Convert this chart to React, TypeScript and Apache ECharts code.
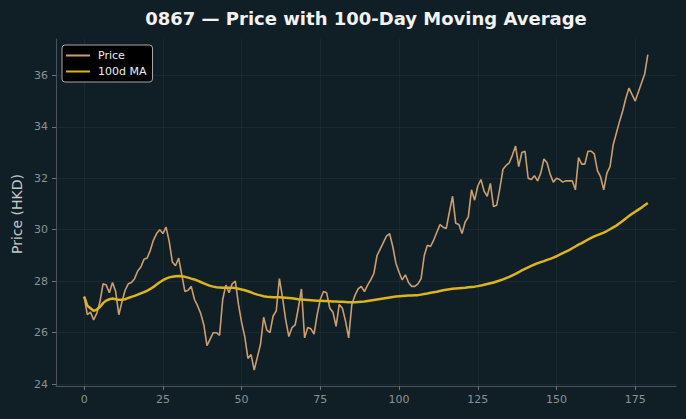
import React, { useEffect, useRef } from "react";
import * as echarts from "echarts";

const priceValues: number[] = [
  27.4, 26.7, 26.8, 26.5, 26.75, 27.2, 27.9, 27.85, 27.55, 27.95,
  27.6, 26.7, 27.2, 27.65, 27.9, 27.95, 28.1, 28.4, 28.55, 28.85,
  28.9, 29.2, 29.6, 29.85, 30.0, 29.85, 30.1, 29.55, 28.75, 28.6,
  28.9, 28.25, 27.6, 27.65, 27.8, 27.3, 27.05, 26.75, 26.3, 25.5,
  25.75, 26.0, 26.0, 25.9, 27.3, 27.85, 27.55, 27.9, 28.0, 27.1,
  26.4, 25.85, 25.0, 25.15, 24.55, 25.05, 25.55, 26.6, 26.1, 26.0,
  26.65, 26.85, 28.1, 27.35, 26.5, 25.85, 26.2, 26.3, 26.95, 27.7,
  25.8, 26.2, 26.15, 25.95, 26.7, 27.3, 27.6, 27.55, 26.95, 26.8,
  26.25, 27.1, 26.95, 26.45, 25.8, 27.1, 27.45, 27.7, 27.8, 27.6,
  27.85, 28.05, 28.3, 29.0, 29.25, 29.5, 29.75, 29.85, 29.35, 28.7,
  28.35, 28.05, 28.25, 27.95, 27.8, 27.8, 27.9, 28.1, 29.0, 29.4,
  29.35, 29.6, 29.9, 30.2, 30.1, 30.05, 30.7, 31.3, 30.25, 30.2,
  29.85, 30.3, 30.5, 31.55, 31.15, 31.7, 31.95, 31.5, 31.3, 31.8,
  30.9, 30.95, 31.6, 32.35, 32.5, 32.6, 32.9, 33.25, 32.45, 33.0,
  33.05, 32.0, 31.95, 32.1, 31.9, 32.2, 32.75, 32.6, 32.15, 31.85,
  32.0, 31.95, 31.85, 31.9, 31.9, 31.9, 31.55, 32.8, 32.55, 32.55,
  33.05, 33.05, 32.95, 32.3, 32.05, 31.55, 32.2, 32.45, 33.3, 33.75,
  34.2, 34.6, 35.1, 35.5, 35.25, 35.0, 35.35, 35.7, 36.05, 36.8,
];

const maValues: number[] = [
  27.4, 27.05, 26.95, 26.85, 26.9, 27.0, 27.15, 27.25, 27.3, 27.33,
  27.3, 27.28, 27.28, 27.3, 27.35, 27.39, 27.43, 27.48, 27.53, 27.58,
  27.63, 27.7, 27.78, 27.87, 27.96, 28.04, 28.1, 28.15, 28.17, 28.19,
  28.2, 28.19, 28.17, 28.14, 28.1, 28.07, 28.02, 27.97, 27.92, 27.87,
  27.82, 27.79, 27.77, 27.76, 27.75, 27.75, 27.75, 27.75, 27.74, 27.71,
  27.68, 27.65, 27.61, 27.57, 27.52, 27.48, 27.45, 27.42, 27.4, 27.39,
  27.38, 27.38, 27.38, 27.37, 27.36, 27.35, 27.34, 27.32, 27.3, 27.29,
  27.28, 27.27, 27.26, 27.25, 27.24, 27.24, 27.23, 27.23, 27.22, 27.21,
  27.21, 27.2, 27.2, 27.19, 27.18, 27.18, 27.18, 27.19, 27.2, 27.21,
  27.23, 27.25, 27.27, 27.29, 27.31, 27.33, 27.35, 27.37, 27.39, 27.41,
  27.42, 27.43, 27.44, 27.45, 27.45, 27.46, 27.46, 27.48, 27.5, 27.52,
  27.55, 27.57, 27.59, 27.62, 27.65, 27.67, 27.69, 27.71, 27.72, 27.73,
  27.74, 27.75, 27.77, 27.78, 27.79, 27.81, 27.83, 27.86, 27.89, 27.92,
  27.95, 27.99, 28.03, 28.07, 28.12, 28.17, 28.23, 28.29, 28.35, 28.42,
  28.48, 28.54, 28.6, 28.65, 28.7, 28.74, 28.78, 28.83, 28.87, 28.92,
  28.97, 29.03, 29.09, 29.15, 29.21, 29.28, 29.35, 29.42, 29.48, 29.55,
  29.62, 29.68, 29.74, 29.79, 29.84, 29.89, 29.95, 30.02, 30.09, 30.16,
  30.25, 30.34, 30.44, 30.53, 30.62, 30.7, 30.78, 30.86, 30.95, 31.04,
];

const xTicks: number[] = [0, 25, 50, 75, 100, 125, 150, 175];
const yTicks: number[] = [24, 26, 28, 30, 32, 34, 36];

const TITLE = "0867 — Price with 100-Day Moving Average";
const Y_NAME = "Price (HKD)";

export default function App() {
  const ref = useRef<HTMLDivElement>(null);

  useEffect(() => {
    document.body.style.margin = "0";
    if (!ref.current) return;
    const chart = echarts.init(ref.current, undefined, { renderer: "svg" });
    const font = '"DejaVu Sans", sans-serif';
    const gridLine = { show: true, lineStyle: { color: "rgba(255,255,255,0.045)", width: 1 } };
    chart.setOption({
      animation: false,
      backgroundColor: "#101f26",
      grid: { left: 56, right: 10, top: 39, bottom: 33, containLabel: false },
      xAxis: {
        type: "value",
        min: -8.95,
        max: 187.95,
        axisLine: { show: true, onZero: false, lineStyle: { color: "#4a5358", width: 1 } },
        axisTick: { show: true, length: 4, customValues: xTicks, lineStyle: { color: "#6a7276" } },
        axisLabel: { customValues: xTicks, color: "#8b9296", fontSize: 11, fontFamily: font, margin: 8 },
        splitLine: gridLine,
      },
      yAxis: {
        type: "value",
        min: 23.93,
        max: 37.41,
        axisLine: { show: true, onZero: false, lineStyle: { color: "#4a5358", width: 1 } },
        axisTick: { show: true, length: 4, customValues: yTicks, lineStyle: { color: "#6a7276" } },
        axisLabel: { customValues: yTicks, color: "#8b9296", fontSize: 11, fontFamily: font, margin: 8 },
        splitLine: gridLine,
      },
      legend: {
        show: true,
        orient: "vertical",
        left: 62,
        top: 45,
        padding: [5, 6, 5, 3],
        itemWidth: 24,
        itemHeight: 10,
        itemGap: 5,
        backgroundColor: "#000000",
        borderColor: "#a8a8a8",
        borderWidth: 1,
        borderRadius: 3,
        itemStyle: { opacity: 0 },
        textStyle: { color: "#eeeeee", fontSize: 11, fontFamily: font, padding: [0, 0, 0, 3] },
        data: ["Price", "100d MA"],
      },
      graphic: [
        {
          type: "text",
          x: 366,
          y: 18,
          style: {
            text: TITLE,
            fill: "#f2f2f2",
            font: 'bold 18px "DejaVu Sans", sans-serif',
            textAlign: "center",
            textVerticalAlign: "middle",
          },
        },
        {
          type: "text",
          x: 17,
          y: 214,
          rotation: Math.PI / 2,
          style: {
            text: Y_NAME,
            fill: "#c4c8ca",
            font: '14px "DejaVu Sans", sans-serif',
            textAlign: "center",
            textVerticalAlign: "middle",
          },
        },
      ],
      series: [
        {
          name: "Price",
          type: "line",
          data: priceValues.map((v, i) => [i, v]),
          showSymbol: false,
          symbol: "none",
          lineStyle: { color: "#cc9e6e", width: 1.6 },
          itemStyle: { color: "#cc9e6e" },
          z: 2,
        },
        {
          name: "100d MA",
          type: "line",
          data: maValues.map((v, i) => [i, v]),
          showSymbol: false,
          symbol: "none",
          lineStyle: { color: "#dcb41c", width: 2.5 },
          itemStyle: { color: "#dcb41c" },
          z: 3,
        },
      ],
    });
    return () => chart.dispose();
  }, []);

  return <div ref={ref} style={{ width: 686, height: 419 }} />;
}
